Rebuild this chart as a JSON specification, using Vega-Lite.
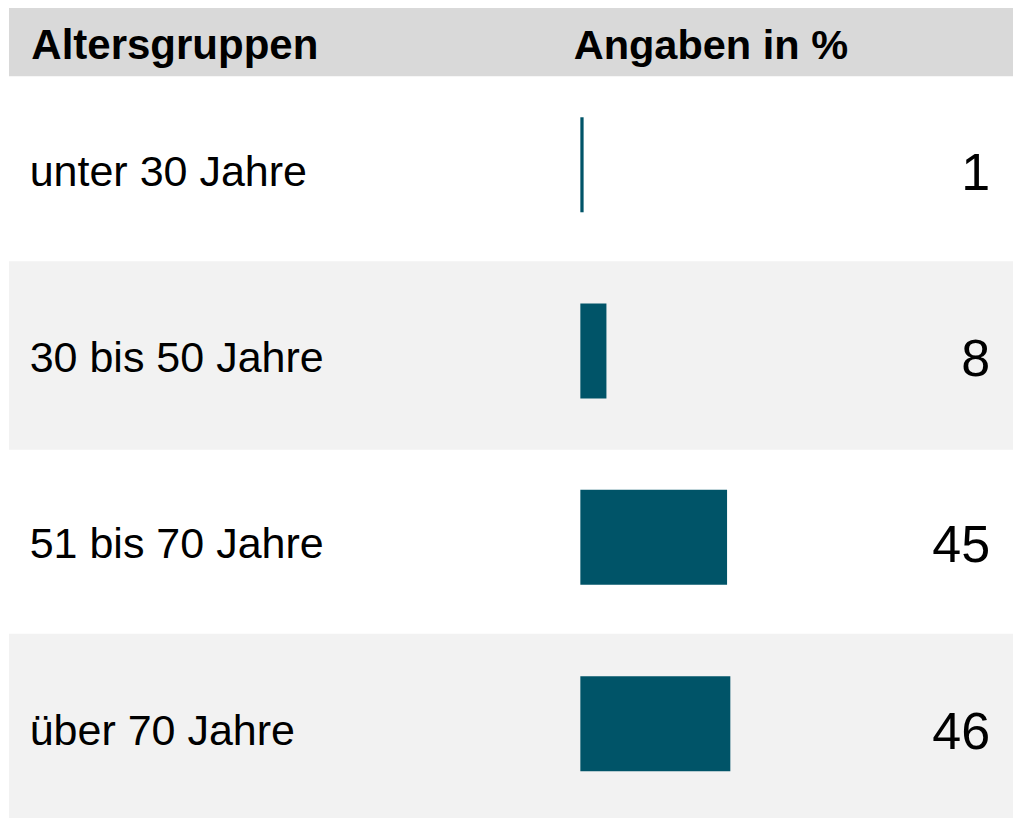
{
  "$schema": "https://vega.github.io/schema/vega-lite/v6.json",
  "width": 1013,
  "height": 818,
  "autosize": "none",
  "padding": 0,
  "background": "white",
  "config": {"view": {"stroke": null}, "font": "Liberation Sans"},
  "datasets": {
    "rows": [
      {"row": 1, "group": "unter 30 Jahre", "value": 1},
      {"row": 2, "group": "30 bis 50 Jahre", "value": 8},
      {"row": 3, "group": "51 bis 70 Jahre", "value": 45},
      {"row": 4, "group": "über 70 Jahre", "value": 46}
    ]
  },
  "layer": [
    {
      "data": {"values": [{"section": "Kopfzeile"}]},
      "mark": {"type": "rect", "color": "#d9d9d9"},
      "encoding": {
        "x": {"datum": -175.24, "type": "quantitative", "scale": {"domain": [-178, 132.7], "nice": false, "zero": false}, "axis": null},
        "x2": {"datum": 132.7},
        "y": {"datum": 0.1341, "type": "quantitative", "scale": {"domain": [0.1182, 4.4555], "reverse": true, "nice": false, "zero": false}, "axis": null},
        "y2": {"datum": 0.5}
      }
    },
    {
      "data": {"name": "rows"},
      "transform": [{"filter": "datum.row % 2 == 0"}],
      "mark": {"type": "bar", "color": "#f2f2f2", "height": 188.6, "clip": true},
      "encoding": {
        "x": {"datum": -175.24, "type": "quantitative"},
        "x2": {"datum": 132.7},
        "y": {"field": "row", "type": "quantitative"}
      }
    },
    {
      "data": {"name": "rows"},
      "mark": {"type": "bar", "color": "#005468", "height": 95, "yOffset": -4.5},
      "encoding": {
        "x": {"field": "value", "type": "quantitative"},
        "x2": {"datum": 0},
        "y": {"field": "row", "type": "quantitative"}
      }
    },
    {
      "data": {"name": "rows"},
      "mark": {"type": "text", "align": "left", "baseline": "alphabetic", "dy": 16.5, "fontSize": 43, "color": "#000000"},
      "encoding": {
        "x": {"datum": -168.9, "type": "quantitative"},
        "y": {"field": "row", "type": "quantitative"},
        "text": {"field": "group"}
      }
    },
    {
      "data": {"name": "rows"},
      "mark": {"type": "text", "align": "right", "baseline": "alphabetic", "dy": 20.5, "fontSize": 52, "color": "#000000"},
      "encoding": {
        "x": {"datum": 125.7, "type": "quantitative"},
        "y": {"field": "row", "type": "quantitative"},
        "text": {"field": "value"}
      }
    },
    {
      "data": {"values": [{"header": "Altersgruppen"}]},
      "mark": {"type": "text", "align": "left", "baseline": "alphabetic", "fontSize": 42, "fontWeight": "bold", "color": "#000000"},
      "encoding": {
        "x": {"datum": -168.4, "type": "quantitative"},
        "y": {"datum": 0.4099, "type": "quantitative"},
        "text": {"field": "header"}
      }
    },
    {
      "data": {"values": [{"header": "Angaben in %"}]},
      "mark": {"type": "text", "align": "left", "baseline": "alphabetic", "fontSize": 41.5, "fontWeight": "bold", "color": "#000000"},
      "encoding": {
        "x": {"datum": -2.05, "type": "quantitative"},
        "y": {"datum": 0.4099, "type": "quantitative"},
        "text": {"field": "header"}
      }
    }
  ]
}
